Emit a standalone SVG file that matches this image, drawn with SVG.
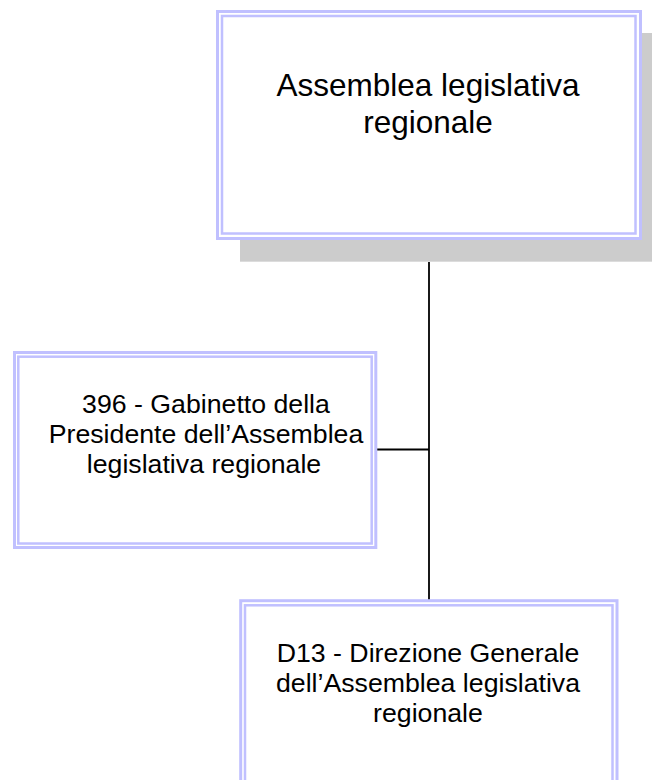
<svg xmlns="http://www.w3.org/2000/svg" width="652" height="780" viewBox="0 0 652 780">
<style>
.outer{fill:#ffffff;stroke:#c0c0ff;stroke-width:3}
.inner{fill:none;stroke:#c0c0ff;stroke-width:2.5}
.shadow{fill:#cccccc}
.t{font-family:"Liberation Sans",Arial,sans-serif;fill:#000000;text-anchor:middle}
.big{font-size:31.5px}
.mid{font-size:26.7px}
.conn{stroke:#000000;stroke-width:1.8;fill:none}
</style>
<rect width="652" height="780" fill="#ffffff"/>
<g id="connectors">
<line class="conn" x1="429" y1="239" x2="429" y2="600"/>
<line class="conn" x1="377" y1="449.5" x2="429" y2="449.5"/>
</g>
<g id="node-assemblea">
<rect class="shadow" x="240" y="33" width="425" height="229"/>
<line x1="240" y1="261.5" x2="652" y2="261.5" stroke="#dcdcdc" stroke-width="1"/>
<rect class="outer" x="217.5" y="11.5" width="423" height="227"/>
<rect class="inner" x="222" y="16" width="413.5" height="217.5"/>
<text class="t big" x="428" y="96">Assemblea legislativa</text>
<text class="t big" x="428" y="133">regionale</text>
</g>
<g id="node-396">
<rect class="outer" x="14.5" y="352.5" width="361.3" height="195"/>
<rect class="inner" x="18.3" y="356.7" width="353.4" height="186.8"/>
<text class="t mid" x="206" y="413">396 - Gabinetto della</text>
<text class="t mid" x="206" y="443">Presidente dell’Assemblea</text>
<text class="t mid" x="204" y="473">legislativa regionale</text>
</g>
<g id="node-d13">
<rect class="outer" x="240.7" y="600.7" width="376.3" height="200"/>
<rect class="inner" x="245" y="605.3" width="367.5" height="200"/>
<text class="t mid" x="428" y="662">D13 - Direzione Generale</text>
<text class="t mid" x="428" y="692">dell’Assemblea legislativa</text>
<text class="t mid" x="428" y="722">regionale</text>
</g>
</svg>
